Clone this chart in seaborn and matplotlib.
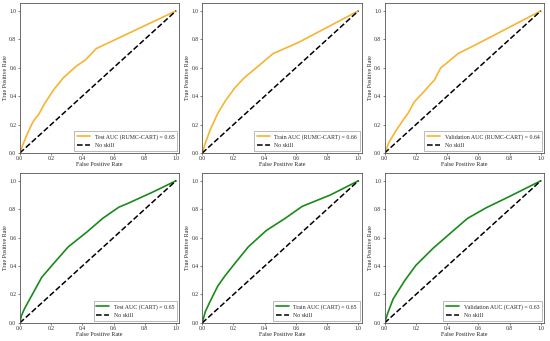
import numpy as np
import pandas as pd
import matplotlib
matplotlib.use("Agg")
import matplotlib.pyplot as plt
import seaborn as sns

# ROC curves (FPR, TPR)
test_rumc_fpr = [0, 0.02, 0.05, 0.08, 0.10, 0.12, 0.16, 0.22, 0.28, 0.32, 0.36, 0.42, 0.46, 0.49, 1.0]
test_rumc_tpr = [0, 0.06, 0.14, 0.21, 0.245, 0.27, 0.35, 0.45, 0.53, 0.57, 0.61, 0.655, 0.70, 0.735, 1.0]

train_rumc_fpr = [0, 0.02, 0.05, 0.10, 0.15, 0.21, 0.27, 0.33, 0.40, 0.455, 0.62, 1.0]
train_rumc_tpr = [0, 0.07, 0.16, 0.28, 0.37, 0.46, 0.53, 0.585, 0.65, 0.70, 0.78, 1.0]

val_rumc_fpr = [0, 0.03, 0.08, 0.13, 0.15, 0.19, 0.25, 0.29, 0.32, 0.34, 0.36, 0.40, 0.47, 0.58, 1.0]
val_rumc_tpr = [0, 0.08, 0.17, 0.25, 0.28, 0.36, 0.43, 0.48, 0.515, 0.56, 0.60, 0.635, 0.70, 0.76, 1.0]

test_cart_fpr = [0, 0.01, 0.03, 0.085, 0.14, 0.21, 0.25, 0.31, 0.43, 0.53, 0.635, 0.69, 0.85, 1.0]
test_cart_tpr = [0, 0.05, 0.10, 0.21, 0.32, 0.41, 0.46, 0.535, 0.64, 0.735, 0.815, 0.84, 0.92, 1.0]

train_cart_fpr = [0, 0.02, 0.05, 0.10, 0.145, 0.21, 0.295, 0.41, 0.53, 0.64, 0.82, 1.0]
train_cart_tpr = [0, 0.08, 0.15, 0.26, 0.33, 0.42, 0.535, 0.65, 0.735, 0.82, 0.90, 1.0]

val_cart_fpr = [0, 0.02, 0.055, 0.13, 0.20, 0.31, 0.43, 0.53, 0.65, 0.80, 1.0]
val_cart_tpr = [0, 0.07, 0.17, 0.30, 0.405, 0.525, 0.64, 0.735, 0.81, 0.89, 1.0]

labels = [
    "Test AUC (RUMC-CART) = 0.65",
    "Train AUC (RUMC-CART) = 0.66",
    "Validation AUC (RUMC-CART) = 0.64",
    "Test AUC (CART) = 0.65",
    "Train AUC (CART) = 0.65",
    "Validation AUC (CART) = 0.63",
]
noskill_x = [0, 1]
noskill_y = [0, 1]
ticks = [0.0, 0.2, 0.4, 0.6, 0.8, 1.0]

curves = [
    (test_rumc_fpr, test_rumc_tpr),
    (train_rumc_fpr, train_rumc_tpr),
    (val_rumc_fpr, val_rumc_tpr),
    (test_cart_fpr, test_cart_tpr),
    (train_cart_fpr, train_cart_tpr),
    (val_cart_fpr, val_cart_tpr),
]
colors = ["#f7b431"] * 3 + ["#1a8a1a"] * 3

sns.set_theme(style="white")
plt.rcParams["font.family"] = ["Liberation Serif", "DejaVu Serif"]

fig, axes = plt.subplots(2, 3, figsize=(5.5, 3.41), dpi=100)
fig.subplots_adjust(left=0.036, right=0.989, top=0.991, bottom=0.053,
                    wspace=0.145, hspace=0.133)

for ax, (fx, ty), lab, col in zip(axes.flat, curves, labels, colors):
    df = pd.DataFrame({"fpr": fx, "tpr": ty})
    sns.lineplot(data=df, x="fpr", y="tpr", ax=ax, color=col, lw=1.2,
                 label=lab, sort=False, estimator=None)
    dn = pd.DataFrame({"fpr": noskill_x, "tpr": noskill_y})
    sns.lineplot(data=dn, x="fpr", y="tpr", ax=ax, color="black", lw=1.1,
                 ls="--", label="No skill", estimator=None)
    ax.set_xlim(0, 1.02)
    ax.set_ylim(0, 1.055)
    ax.set_xticks(ticks)
    ax.set_yticks(ticks)
    ax.set_xticklabels([f"{t:.1f}" for t in ticks])
    ax.set_yticklabels([f"{t:.1f}" for t in ticks])
    ax.tick_params(labelsize=4, length=1.5, width=0.4, pad=1, bottom=True, left=True)
    ax.set_xlabel("False Positive Rate", fontsize=4.3, labelpad=0.5)
    ax.set_ylabel("True Positive Rate", fontsize=4.3, labelpad=1)
    for sp in ax.spines.values():
        sp.set_color("#555555")
        sp.set_linewidth(0.6)
    leg = ax.legend(loc="lower right", fontsize=4.2, frameon=True, fancybox=False,
                    handlelength=2.2, borderpad=0.5, labelspacing=0.6,
                    handletextpad=0.8, borderaxespad=0.3)
    leg.get_frame().set_edgecolor("#888888")
    leg.get_frame().set_linewidth(0.5)

fig.savefig("out.png", dpi=100)
